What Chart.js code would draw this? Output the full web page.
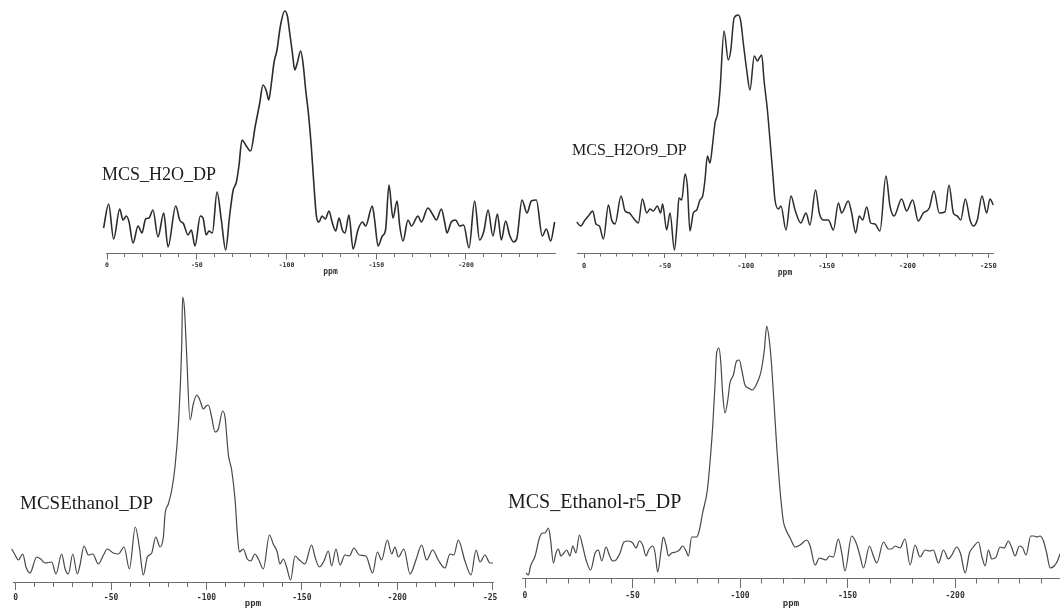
<!DOCTYPE html>
<html>
<head>
<meta charset="utf-8">
<title>29Si DP MAS NMR spectra</title>
<script src="https://cdn.jsdelivr.net/npm/chart.js@4.4.1/dist/chart.umd.min.js"></script>
<style>
  html, body { margin: 0; padding: 0; background: #ffffff; }
  body { width: 1060px; height: 610px; position: relative; overflow: hidden; }
  canvas { position: absolute; }
  .tag {
    position: absolute;
    font-family: "Liberation Serif", "Times New Roman", serif;
    color: #1c1c1c;
    white-space: nowrap;
    line-height: 1;
  }
</style>
</head>
<body>
<script>
// Chemical shift (ppm) and intensity (a.u.) of each spectrum

const h2oPpm = [1.9, -0.9, -3.7, -7.1, -8.9, -10.8, -12.3, -14.5, -17.3, -19.5, -21.5, -23.4, -25.6, -28.4, -31.6, -34.0, -38.3, -40.5, -42.7, -45.1, -47.0, -49.0, -52.0, -53.5, -55.3, -56.8, -58.7, -61.3, -63.7, -66.1, -68.3, -70.2, -72.1, -73.5, -75.2, -77.6, -80.0, -82.6, -85.1, -86.9, -88.8, -90.1, -91.6, -93.0, -94.7, -96.6, -99.0, -100.5, -101.8, -103.3, -104.6, -106.0, -107.9, -109.2, -110.7, -112.2, -113.8, -115.1, -116.6, -118.1, -119.8, -121.6, -123.7, -125.4, -127.4, -129.3, -131.1, -132.6, -134.8, -137.1, -139.8, -142.3, -144.1, -147.8, -149.1, -151.0, -153.4, -155.2, -157.1, -159.3, -161.6, -163.1, -164.9, -167.7, -169.6, -173.3, -175.1, -178.8, -181.6, -183.5, -186.3, -188.1, -189.4, -191.8, -194.2, -196.5, -198.7, -201.7, -204.8, -207.6, -210.0, -212.3, -215.0, -217.5, -219.7, -222.1, -224.3, -226.6, -228.4, -231.2, -234.0, -236.4, -239.2, -242.5, -244.8, -247.2, -249.4];
const h2oIntensity = [25, 49, 14, 44, 33, 37, 31, 10, 27, 20, 34, 35, 43, 16, 40, 6, 47, 33, 29, 18, 23, 7, 37, 35, 18, 22, 20, 61, 33, 3, 37, 62, 71, 87, 113, 107, 102, 127, 150, 168, 162, 153, 170, 190, 203, 227, 242, 237, 220, 200, 183, 190, 202, 190, 163, 140, 107, 73, 38, 31, 37, 34, 42, 31, 22, 35, 23, 20, 38, 4, 23, 31, 27, 47, 33, 7, 17, 23, 68, 35, 52, 27, 12, 33, 27, 37, 31, 45, 38, 33, 44, 31, 20, 31, 33, 27, 28, 5, 52, 13, 22, 43, 17, 39, 13, 32, 18, 11, 15, 53, 40, 52, 53, 17, 24, 12, 31];

const h2oR9Ppm = [4.5, 2.1, -0.6, -2.7, -5.4, -7.4, -9.5, -12.0, -15.1, -17.1, -19.2, -22.9, -25.4, -28.0, -30.5, -33.6, -36.1, -38.8, -40.8, -42.9, -45.3, -47.4, -48.6, -51.1, -53.2, -55.9, -57.7, -58.7, -60.4, -62.5, -63.9, -65.5, -67.6, -69.7, -71.7, -73.4, -74.8, -76.3, -77.9, -79.6, -81.0, -82.7, -84.1, -86.6, -89.2, -90.7, -92.8, -95.4, -96.9, -98.5, -100.6, -102.6, -105.3, -107.2, -108.4, -109.9, -111.3, -113.4, -115.0, -116.7, -118.1, -120.2, -121.8, -124.9, -128.0, -130.5, -134.0, -137.3, -139.7, -143.2, -145.5, -148.0, -151.1, -154.2, -157.3, -159.3, -163.4, -165.5, -168.0, -170.2, -172.3, -174.8, -177.3, -179.9, -183.0, -186.7, -189.2, -191.7, -196.4, -199.5, -203.2, -206.7, -209.8, -213.5, -216.4, -219.7, -223.2, -225.7, -228.4, -230.8, -232.9, -235.8, -238.7, -240.7, -243.2, -246.1, -249.0, -251.0, -253.1];
const h2oR9Intensity = [31, 27, 33, 37, 42, 29, 27, 14, 48, 33, 29, 57, 42, 40, 35, 30, 54, 40, 44, 42, 47, 40, 49, 23, 40, 3, 33, 55, 53, 79, 67, 22, 40, 43, 53, 57, 73, 97, 90, 110, 130, 140, 163, 222, 193, 202, 235, 238, 232, 210, 183, 163, 197, 192, 195, 198, 173, 143, 113, 80, 53, 44, 47, 23, 57, 43, 30, 40, 28, 63, 40, 33, 33, 23, 50, 40, 52, 40, 20, 37, 33, 46, 30, 29, 22, 77, 47, 37, 54, 42, 53, 32, 40, 45, 62, 40, 41, 68, 40, 37, 33, 54, 33, 27, 33, 57, 40, 54, 48];

const ethanolPpm = [2.1, 0.3, -1.4, -3.7, -5.4, -7.5, -11.0, -13.1, -15.4, -18.9, -21.1, -24.1, -25.9, -27.6, -29.9, -32.3, -33.7, -35.8, -38.1, -40.4, -43.3, -46.0, -48.0, -51.2, -53.8, -56.8, -59.6, -62.7, -64.8, -66.9, -69.0, -71.3, -73.4, -75.7, -77.4, -78.3, -80.0, -81.8, -83.5, -85.3, -87.0, -87.5, -88.4, -89.6, -91.4, -93.1, -94.9, -96.3, -98.4, -99.8, -101.0, -102.7, -104.5, -106.2, -108.5, -109.7, -111.5, -113.2, -115.0, -116.2, -117.2, -119.3, -121.4, -123.2, -125.4, -127.2, -129.8, -133.0, -135.0, -137.1, -138.5, -140.3, -142.0, -144.1, -146.4, -148.7, -151.6, -155.1, -156.9, -159.2, -161.6, -163.9, -165.6, -167.9, -170.0, -172.6, -174.9, -177.3, -180.1, -183.6, -187.1, -189.6, -191.8, -194.8, -197.1, -198.8, -200.6, -203.5, -206.7, -209.8, -212.8, -215.4, -218.6, -221.5, -225.0, -227.6, -229.7, -232.0, -235.5, -238.7, -241.3, -243.4, -246.0, -248.6, -250.2];
const ethanolIntensity = [33, 27, 22, 28, 15, 9, 25, 23, 19, 20, 8, 28, 13, 8, 28, 8, 17, 36, 27, 28, 18, 27, 33, 29, 28, 35, 13, 55, 35, 7, 25, 29, 45, 35, 45, 68, 78, 92, 115, 158, 235, 285, 275, 228, 162, 178, 187, 183, 173, 176, 177, 165, 150, 153, 171, 165, 127, 112, 82, 48, 30, 33, 23, 21, 28, 23, 13, 47, 38, 30, 18, 23, 15, 2, 26, 22, 18, 37, 25, 15, 21, 31, 16, 33, 17, 27, 26, 34, 27, 26, 9, 30, 22, 42, 28, 35, 25, 33, 8, 22, 37, 22, 32, 22, 14, 28, 27, 42, 21, 7, 32, 20, 27, 19, 19];

const ethanolR5Ppm = [-0.5, -1.6, -2.6, -4.7, -6.7, -8.2, -9.3, -10.9, -11.9, -13.2, -14.4, -15.5, -16.7, -18.1, -19.4, -20.9, -22.2, -23.7, -25.3, -26.8, -28.4, -30.5, -32.6, -34.1, -35.7, -37.7, -39.2, -40.8, -42.3, -44.2, -46.0, -48.1, -50.1, -51.6, -53.2, -54.7, -56.3, -57.5, -59.4, -60.5, -61.7, -63.3, -64.3, -65.6, -66.7, -68.2, -70.2, -71.8, -73.3, -74.9, -76.0, -77.5, -79.8, -81.1, -82.6, -84.8, -86.0, -87.3, -88.4, -89.1, -90.2, -91.0, -91.9, -93.0, -94.3, -95.3, -96.9, -98.4, -99.7, -100.8, -102.3, -103.9, -105.7, -107.0, -108.5, -109.8, -111.3, -112.4, -113.6, -114.7, -115.8, -117.1, -118.3, -119.5, -120.2, -121.4, -123.3, -125.6, -127.9, -131.0, -132.6, -134.9, -136.9, -138.5, -140.0, -141.6, -143.4, -145.7, -147.3, -148.8, -151.9, -154.0, -155.8, -157.4, -160.2, -162.0, -163.6, -166.7, -169.0, -170.5, -172.1, -174.4, -176.7, -179.1, -181.4, -183.7, -186.1, -188.1, -189.9, -192.3, -194.6, -196.9, -198.5, -200.8, -202.6, -204.7, -206.7, -208.5, -210.9, -212.4, -214.0, -215.5, -217.1, -219.1, -220.9, -222.8, -224.8, -226.4, -227.9, -229.9, -231.5, -233.0, -235.2, -236.7, -238.0, -239.5, -241.1, -242.6, -244.2, -246.1, -247.6, -248.8];
const ethanolR5Intensity = [5, 3, 12, 22, 40, 45, 45, 50, 38, 15, 25, 29, 22, 25, 28, 22, 32, 25, 43, 32, 18, 8, 25, 28, 17, 31, 23, 17, 18, 25, 36, 37, 35, 30, 37, 33, 22, 28, 32, 25, 6, 28, 41, 33, 22, 25, 26, 28, 32, 27, 22, 41, 41, 48, 65, 88, 115, 152, 195, 225, 230, 217, 185, 165, 178, 195, 203, 217, 218, 208, 193, 190, 188, 191, 198, 207, 228, 252, 238, 212, 175, 130, 95, 68, 56, 48, 40, 31, 33, 38, 32, 13, 20, 19, 18, 22, 21, 39, 25, 7, 42, 35, 22, 10, 32, 22, 15, 36, 29, 29, 32, 30, 39, 13, 33, 21, 28, 27, 28, 15, 28, 19, 23, 31, 24, 5, 25, 31, 36, 22, 12, 28, 19, 21, 31, 30, 37, 30, 22, 32, 30, 23, 42, 42, 41, 42, 37, 25, 10, 12, 17, 24];

// ppm axis ticks: labelled every 50, small marks every 10
const majorTickPpm = [0, -50, -100, -150, -200, -250];
const minorTickPpm = [0, -10, -20, -30, -40, -50, -60, -70, -80, -90, -100, -110, -120, -130, -140, -150, -160, -170, -180, -190, -200, -210, -220, -230, -240, -250];

const axisColor = '#6e6e6e';
const labelColor = '#333333';
const tickFamily = '"DejaVu Sans Mono", "Liberation Mono", monospace';

// Layout and style of each spectrum box
const spectra = [
  { name: 'MCS_H2O_DP', ppm: h2oPpm, intensity: h2oIntensity,
    box: { left: 100, top: 0, width: 461, height: 277 }, pad: { left: 6, right: 6 },
    ppmMin: -249.6, ppmMax: 0.56, yMax: 253, axisHeight: 24,
    minorTick: 4, majorTick: 6.5, labelPad: 2, labelSize: 6.5, titleSize: 8,
    line: '#2c2c2c', width: 1.6,
    tag: { left: 102, top: 165, size: 18 } },
  { name: 'MCS_H2Or9_DP', ppm: h2oR9Ppm, intensity: h2oR9Intensity,
    box: { left: 571, top: 0, width: 428, height: 278 }, pad: { left: 6, right: 6 },
    ppmMin: -252.9, ppmMax: 4.33, yMax: 253, axisHeight: 25,
    minorTick: 3.5, majorTick: 5, labelPad: 4, labelSize: 7, titleSize: 8,
    line: '#2c2c2c', width: 1.5,
    tag: { left: 572, top: 142, size: 16 } },
  { name: 'MCSEthanol_DP', ppm: ethanolPpm, intensity: ethanolIntensity,
    box: { left: 7, top: 290, width: 490, height: 319 }, pad: { left: 6, right: 4 },
    ppmMin: -250.2, ppmMax: 1.42, yMax: 292, axisHeight: 27,
    minorTick: 5, majorTick: 8, labelPad: 3, labelSize: 8, titleSize: 9,
    line: '#474747', width: 1.2,
    tag: { left: 20, top: 493, size: 19 } },
  { name: 'MCS_Ethanol-r5_DP', ppm: ethanolR5Ppm, intensity: ethanolR5Intensity,
    box: { left: 516, top: 320, width: 544, height: 289 }, pad: { left: 6, right: 0 },
    ppmMin: -248.8, ppmMax: 1.4, yMax: 258, axisHeight: 31,
    minorTick: 5.5, majorTick: 10, labelPad: 3, labelSize: 8, titleSize: 9,
    line: '#474747', width: 1.2,
    tag: { left: 508, top: 491, size: 20 } }
];

function useTicks(values) {
  return scale => {
    scale.ticks = values
      .filter(v => v >= scale.min && v <= scale.max)
      .map(v => ({ value: v }));
  };
}

function fixAxisBox(height) {
  return scale => {
    if (height) scale.height = height;
    scale.paddingLeft = 0;
    scale.paddingRight = 0;
    scale.paddingTop = 0;
    scale.paddingBottom = 0;
  };
}

function drawSpectrum(spec) {
  const canvas = document.createElement('canvas');
  canvas.width = spec.box.width;
  canvas.height = spec.box.height;
  canvas.style.left = spec.box.left + 'px';
  canvas.style.top = spec.box.top + 'px';
  canvas.style.width = spec.box.width + 'px';
  canvas.style.height = spec.box.height + 'px';
  document.body.appendChild(canvas);

  const points = spec.ppm.map((p, i) => ({ x: p, y: spec.intensity[i] }));

  new Chart(canvas, {
    type: 'line',
    data: {
      datasets: [{
        data: points,
        borderColor: spec.line,
        borderWidth: spec.width,
        pointRadius: 0,
        fill: false,
        cubicInterpolationMode: 'monotone',
        clip: false
      }]
    },
    options: {
      responsive: false,
      animation: false,
      events: [],
      layout: { padding: { left: spec.pad.left, right: spec.pad.right, top: 0, bottom: 0 } },
      plugins: {
        legend: { display: false },
        tooltip: { enabled: false },
        title: { display: false }
      },
      scales: {
        y: { display: false, min: 0, max: spec.yMax },
        x: {
          type: 'linear',
          bounds: 'data',
          min: spec.ppmMin,
          max: spec.ppmMax,
          reverse: true,
          afterBuildTicks: useTicks(minorTickPpm),
          afterFit: fixAxisBox(spec.axisHeight),
          ticks: { display: false, autoSkip: false },
          grid: { drawOnChartArea: false, drawTicks: true, tickLength: spec.minorTick, color: axisColor, lineWidth: 1 },
          border: { display: true, color: axisColor, width: 1 },
          title: {
            display: true,
            text: 'ppm',
            color: labelColor,
            padding: 0,
            font: { family: tickFamily, size: spec.titleSize, weight: 'bold' }
          }
        },
        xMajor: {
          axis: 'x',
          type: 'linear',
          position: { y: 0 },
          bounds: 'data',
          min: spec.ppmMin,
          max: spec.ppmMax,
          reverse: true,
          afterBuildTicks: useTicks(majorTickPpm),
          afterFit: fixAxisBox(0),
          ticks: {
            autoSkip: false,
            maxRotation: 0,
            padding: spec.labelPad,
            color: labelColor,
            font: { family: tickFamily, size: spec.labelSize, weight: 'bold' },
            callback: v => String(v)
          },
          grid: { drawOnChartArea: false, drawTicks: true, tickLength: spec.majorTick, color: axisColor, lineWidth: 1 },
          border: { display: false }
        }
      }
    }
  });

  const tag = document.createElement('div');
  tag.className = 'tag';
  tag.textContent = spec.name;
  tag.style.left = spec.tag.left + 'px';
  tag.style.top = spec.tag.top + 'px';
  tag.style.fontSize = spec.tag.size + 'px';
  document.body.appendChild(tag);
}

spectra.forEach(drawSpectrum);
</script>
</body>
</html>
